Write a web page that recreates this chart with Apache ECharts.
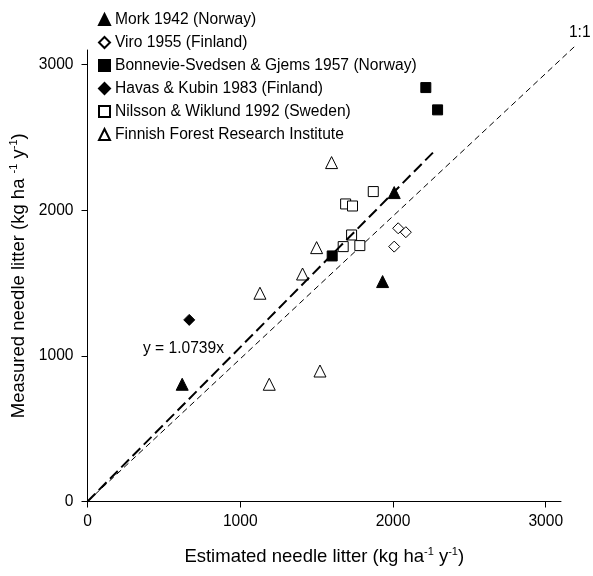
<!DOCTYPE html>
<html><head><meta charset="utf-8">
<script src="https://cdn.jsdelivr.net/npm/echarts@6/dist/echarts.min.js"></script>
<style>html,body{margin:0;padding:0;background:#fff}#c{width:593px;height:576px}</style>
</head><body><div id="c"></div>
<script>
const seriesNames = ['Mork 1942 (Norway)','Viro 1955 (Finland)','Bonnevie-Svedsen & Gjems 1957 (Norway)','Havas & Kubin 1983 (Finland)','Nilsson & Wiklund 1992 (Sweden)','Finnish Forest Research Institute'];
const mork = [[620,805],[2008,2121],[1932,1510]];
const viro = [[2034,1876],[2084,1849],[2008,1750]];
const bonnevie = [[2215,2842],[2292,2689],[1602,1686]];
const havas = [[666,1247]];
const nilsson = [[1871,2128],[1690,2043],[1735,2029],[1729,1830],[1674,1750],[1783,1757]];
const finnish = [[1598,2327],[1500,1743],[1408,1562],[1129,1430],[1190,805],[1522,896]];
const oneToOne = [[0,0],[3190,3125]];
const regression = [[0,0],[2280,2415]];
const tickValues = [0,1000,2000,3000];
const regressionLabel = 'y = 1.0739x';
const regressionLabelAt = [363,1047];
const oneToOneLabel = '1:1';
const oneToOneLabelAt = [3223,3218];

const FONT = 'Liberation Sans, Arial, sans-serif';
const FS = 15.6;
const TFS = 18.5;
const chart = echarts.init(document.getElementById('c'), null, {renderer:'canvas'});
const filled = {color:'#000', borderColor:'#000', borderWidth:1, opacity:1};
const hollow = {color:'#fff', borderColor:'#000', borderWidth:1, opacity:1};
function sc(name, data, symbol, size, style){
  return {type:'scatter', name, data, symbol, symbolSize:size, itemStyle:style, z:5, emphasis:{disabled:true}};
}
function dashedLine(data, width, dash, z){
  return {
    type:'custom', data:data, clip:false, z:z, silent:true,
    encode:{x:0, y:1},
    renderItem:function(params, api){
      if (params.dataIndex !== 0) return null;
      const pts = data.map(d => api.coord(d));
      return {type:'polyline', shape:{points:pts}, style:{stroke:'#000', fill:null, lineWidth:width, lineDash:dash}};
    }
  };
}
const axisCommon = {
  type:'value', min:0, max:3100, interval:1000,
  splitLine:{show:false},
  axisLine:{show:true, lineStyle:{color:'#000', width:1}},
  axisTick:{show:true, inside:false, length:6, lineStyle:{color:'#000'}, customValues:tickValues},
  axisLabel:{color:'#000', fontSize:FS, fontFamily:FONT, customValues:tickValues, formatter:v=>String(v)},
  nameLocation:'middle',
  nameTextStyle:{color:'#000', fontSize:TFS, fontFamily:FONT}
};
const richName = {
  sup:{fontSize:11, fontFamily:FONT, color:'#000', padding:[0,0,9,0]},
  base:{fontSize:TFS, fontFamily:FONT, color:'#000'}
};
chart.setOption({
  animation:false,
  backgroundColor:'#fff',
  grid:{left:87.5, right:32, top:50, bottom:74.5},
  legend:{
    data:seriesNames, orient:'vertical', left:93, top:5.5,
    itemWidth:11, itemHeight:11, itemGap:5, selectedMode:false,
    textStyle:{color:'#000', fontSize:FS, fontFamily:FONT, lineHeight:18}
  },
  xAxis:Object.assign({}, axisCommon, {
    axisLabel:Object.assign({}, axisCommon.axisLabel, {margin:12}),
    name:'{base|Estimated needle litter (kg ha}{sup|-1}{base| y}{sup|-1}{base|)}',
    nameGap:45,
    nameTextStyle:Object.assign({}, axisCommon.nameTextStyle, {rich:richName})
  }),
  yAxis:Object.assign({}, axisCommon, {
    axisLabel:Object.assign({}, axisCommon.axisLabel, {margin:14}),
    name:'{base|Measured needle litter (kg ha }{sup|-1}{base| y}{sup|-1}{base|)}',
    nameGap:55,
    nameTextStyle:Object.assign({}, axisCommon.nameTextStyle, {rich:richName})
  }),
  series:[
    dashedLine(oneToOne, 1, [6,4], 2),
    sc(seriesNames[0], mork, 'triangle', 12, filled),
    sc(seriesNames[1], viro, 'diamond', 11, hollow),
    sc(seriesNames[2], bonnevie, 'rect', 10, filled),
    sc(seriesNames[3], havas, 'diamond', 11, filled),
    sc(seriesNames[4], nilsson, 'rect', 10, hollow),
    sc(seriesNames[5], finnish, 'triangle', 12, hollow),
    dashedLine(regression, 2, [11,5], 6)
  ]
});
const p1 = chart.convertToPixel({gridIndex:0}, regressionLabelAt);
const p2 = chart.convertToPixel({gridIndex:0}, oneToOneLabelAt);
chart.setOption({graphic:[
  {type:'text', x:p1[0], y:p1[1], style:{text:regressionLabel, fill:'#000', font:FS+'px '+FONT, textAlign:'left', textVerticalAlign:'middle'}},
  {type:'text', x:p2[0], y:p2[1], style:{text:oneToOneLabel, fill:'#000', font:FS+'px '+FONT, textAlign:'center', textVerticalAlign:'middle'}}
]});
</script></body></html>
